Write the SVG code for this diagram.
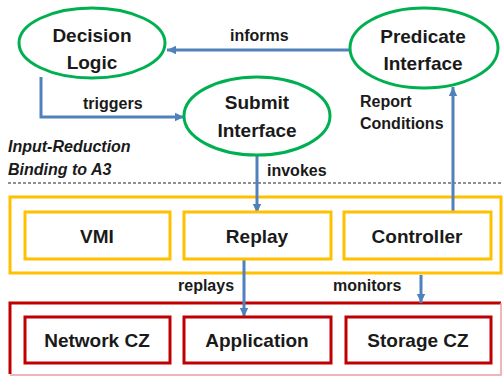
<svg xmlns="http://www.w3.org/2000/svg" width="503" height="376" viewBox="0 0 503 376">
  <style>
    .ell { fill: #ffffff; stroke: #00B050; stroke-width: 3; }
    .ybox { fill: #ffffff; stroke: #FFC000; stroke-width: 3; }
    .rbox { fill: #ffffff; stroke: #C00000; stroke-width: 3; }
    .node { font-family: "Liberation Sans", Arial, sans-serif; font-weight: bold; font-size: 19px; fill: #1a1a1a; text-anchor: middle; }
    .lbl { font-family: "Liberation Sans", Arial, sans-serif; font-weight: bold; font-size: 16px; fill: #1a1a1a; }
    .note { font-family: "Liberation Sans", Arial, sans-serif; font-weight: bold; font-style: italic; font-size: 16px; fill: #1a1a1a; }
    .conn { fill: none; stroke: #4F81BD; stroke-width: 3; }
  </style>
  <defs>
    <marker id="arrow" markerUnits="userSpaceOnUse" markerWidth="10" markerHeight="10" viewBox="0 0 10 10" refX="9" refY="5" orient="auto">
      <path d="M0,0.8 L9,5 L0,9.2 Z" fill="#4F81BD"/>
    </marker>
  </defs>
  <rect width="503" height="376" fill="#ffffff"/>

  <!-- outer containers -->
  <rect id="hypervisor-layer" x="10" y="197" width="491" height="76" class="ybox"/>
  <path id="guest-layer" d="M501,303 L10,303 L10,374" fill="none" stroke="#C00000" stroke-width="3"/>
  <path d="M501,303 L501,375 L10,375" fill="none" stroke="#E8A0A0" stroke-width="1.5"/>

  <!-- separator and side note -->
  <line x1="8" y1="183" x2="503" y2="183" stroke="#222222" stroke-width="1" stroke-dasharray="3,2"/>
  <text class="note" x="8" y="152">Input-Reduction</text>
  <text class="note" x="8" y="175">Binding to A3</text>

  <!-- connectors -->
  <g id="connectors">
    <line class="conn" x1="350" y1="50" x2="167" y2="50" marker-end="url(#arrow)"/>
    <polyline class="conn" points="41,77 41,117 184,117" marker-end="url(#arrow)"/>
    <line class="conn" x1="257" y1="155" x2="257" y2="213" marker-end="url(#arrow)"/>
    <line class="conn" x1="453" y1="212" x2="453" y2="87" marker-end="url(#arrow)"/>
    <line class="conn" x1="244" y1="259" x2="244" y2="317" marker-end="url(#arrow)"/>
    <line class="conn" x1="421" y1="275" x2="421" y2="303" marker-end="url(#arrow)"/>
    <text class="lbl" x="230" y="41">informs</text>
    <text class="lbl" x="83" y="109">triggers</text>
    <text class="lbl" x="267" y="176">invokes</text>
    <text class="lbl" x="360" y="107">Report</text>
    <text class="lbl" x="360" y="129">Conditions</text>
    <text class="lbl" x="178" y="291">replays</text>
    <text class="lbl" x="333" y="291">monitors</text>
  </g>

  <!-- interface nodes -->
  <g id="decision-logic">
    <ellipse class="ell" cx="92" cy="43" rx="73" ry="35"/>
    <text class="node" x="92" y="42">Decision</text>
    <text class="node" x="92" y="69">Logic</text>
  </g>
  <g id="predicate-interface">
    <ellipse class="ell" cx="424" cy="48" rx="74" ry="40"/>
    <text class="node" x="423" y="43">Predicate</text>
    <text class="node" x="423" y="70">Interface</text>
  </g>
  <g id="submit-interface">
    <ellipse class="ell" cx="257" cy="116" rx="73" ry="39"/>
    <text class="node" x="257" y="109">Submit</text>
    <text class="node" x="257" y="137">Interface</text>
  </g>

  <!-- hypervisor components -->
  <g id="vmi">
    <rect class="ybox" x="25" y="212" width="145" height="47"/>
    <text class="node" x="97" y="243">VMI</text>
  </g>
  <g id="replay">
    <rect class="ybox" x="184" y="212" width="147" height="47"/>
    <text class="node" x="257" y="243">Replay</text>
  </g>
  <g id="controller">
    <rect class="ybox" x="344" y="212" width="147" height="47"/>
    <text class="node" x="417" y="243">Controller</text>
  </g>

  <!-- guest components -->
  <g id="network-cz">
    <rect class="rbox" x="25" y="317" width="145" height="46"/>
    <text class="node" x="97" y="347">Network CZ</text>
  </g>
  <g id="application">
    <rect class="rbox" x="184" y="317" width="147" height="46"/>
    <text class="node" x="257" y="347">Application</text>
  </g>
  <g id="storage-cz">
    <rect class="rbox" x="346" y="317" width="145" height="46"/>
    <text class="node" x="418" y="347">Storage CZ</text>
  </g>
</svg>
